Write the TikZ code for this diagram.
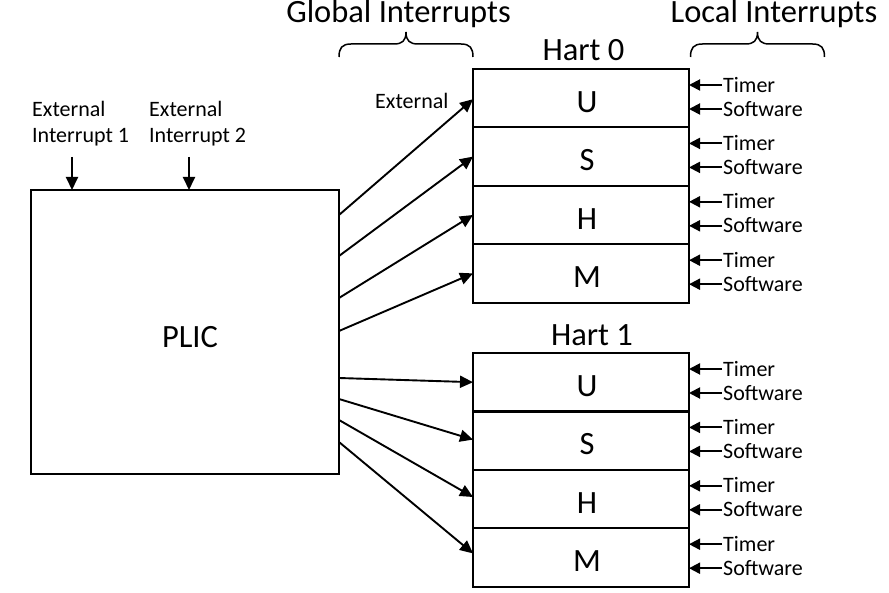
\documentclass[tikz,border=0pt]{standalone}
\usepackage{fontspec}
\setmainfont{Carlito}
\usetikzlibrary{arrows.meta,calc}
\begin{document}
\begin{tikzpicture}[x=1bp,y=-1bp,
  big/.style={font=\fontsize{32.5bp}{38bp}\selectfont, inner sep=0pt},
  small/.style={font=\fontsize{22bp}{26bp}\selectfont, inner sep=0pt},
  plicbox/.style={draw, line width=2.2bp, outer sep=0pt, minimum width=308bp, minimum height=284bp, anchor=north west, inner sep=0pt, text height=30bp, text depth=0bp, font=\fontsize{32.5bp}{38bp}\selectfont, execute at begin node=\hspace*{10bp}},
  mode/.style={draw, line width=2.2bp, outer sep=0pt, minimum width=216bp, minimum height=58.4bp, anchor=north west, inner sep=0pt, text height=28bp, text depth=0bp, font=\fontsize{32.5bp}{38bp}\selectfont, execute at begin node=\hspace*{12bp}},
  loc/.style={small, anchor=west, text height=14.2bp, text depth=0bp, inner xsep=1bp},
  garr/.style={line width=1.9bp, -{Triangle[length=13bp,width=12bp]}},
  larr/.style={line width=1.9bp, -{Triangle[length=11bp,width=11bp]}},
  bracestyle/.style={line width=1.5bp},
  brc/.pic={\draw[bracestyle] (0,0) .. controls (0,-9) and (3,-13) .. (12,-13) -- (55,-13) .. controls (63,-13) and (67,-16) .. (67,-25) .. controls (67,-16) and (71,-13) .. (79,-13) -- (122,-13) .. controls (131,-13) and (134,-9) .. (134,0);}
]
\useasboundingbox (0,0) rectangle (889,593);

% headings and braces
\node[big, anchor=base] (glob) at (398.5,23) {Global Interrupts};
\node[big, anchor=base] (loc) at (774,23) {Local Interrupts};
\pic at (339,57) {brc};
\pic at (690.5,57) {brc};

% PLIC
\node[plicbox] (plic) at (31,190) {PLIC};
\node[small, anchor=base west, align=left] (ei1) at (32,143) {External\\Interrupt 1};
\node[small, anchor=base west, align=left] (ei2) at (149,143) {External\\Interrupt 2};
\coordinate (e1) at (72,157);
\coordinate (e2) at (189,157);
\draw[garr] (e1) -- (e1 |- plic.north);
\draw[garr] (e2) -- (e2 |- plic.north);

% Hart 0
\node[big, anchor=base] (hart0) at (583.5,61) {Hart 0};
\node[mode] (u0) at (473,69) {U};
\node[mode] (s0) at (u0.south west) {S};
\node[mode] (h0) at (s0.south west) {H};
\node[mode] (m0) at (h0.south west) {M};

% Hart 1
\node[big, anchor=base] (hart1) at (592,345) {Hart 1};
\node[mode] (u1) at (473,353) {U};
\node[mode] (s1) at (u1.south west) {S};
\node[mode] (h1) at (s1.south west) {H};
\node[mode] (m1) at (h1.south west) {M};

% local interrupts
\foreach \r in {u0,s0,h0,m0,u1,s1,h1,m1} {
  \node[loc] (\r-tl) at ($(\r.north east)+(33,16)$) {Timer};
  \node[loc] (\r-sl) at ($(\r.north east)+(33,40)$) {Software};
  \draw[larr] (\r-tl.west) -- (\r-tl.west -| \r.east);
  \draw[larr] (\r-sl.west) -- (\r-sl.west -| \r.east);
}

% global interrupts
\node[small, anchor=base west] (ext) at (375,109) {External};
\coordinate (g1) at ($(plic.north east)+(0,25)$);
\coordinate (g2) at ($(plic.north east)+(0,66)$);
\coordinate (g3) at ($(plic.north east)+(0,108)$);
\coordinate (g4) at ($(plic.north east)+(0,141)$);
\coordinate (g5) at ($(plic.north east)+(0,188)$);
\coordinate (g6) at ($(plic.north east)+(0,209)$);
\coordinate (g7) at ($(plic.north east)+(0,230)$);
\coordinate (g8) at ($(plic.north east)+(0,252)$);
\draw[garr] (g1) -- ($(u0.west)+(0,1)$);
\draw[garr] (g2) -- (s0.west);
\draw[garr] (g3) -- (h0.west);
\draw[garr] (g4) -- (m0.west);
\draw[garr] (g5) -- (u1.west);
\draw[garr] (g6) -- ($(s1.west)+(0,-1)$);
\draw[garr] (g7) -- ($(h1.west)+(0,-2)$);
\draw[garr] (g8) -- ($(m1.west)+(0,-4)$);
\end{tikzpicture}
\end{document}
